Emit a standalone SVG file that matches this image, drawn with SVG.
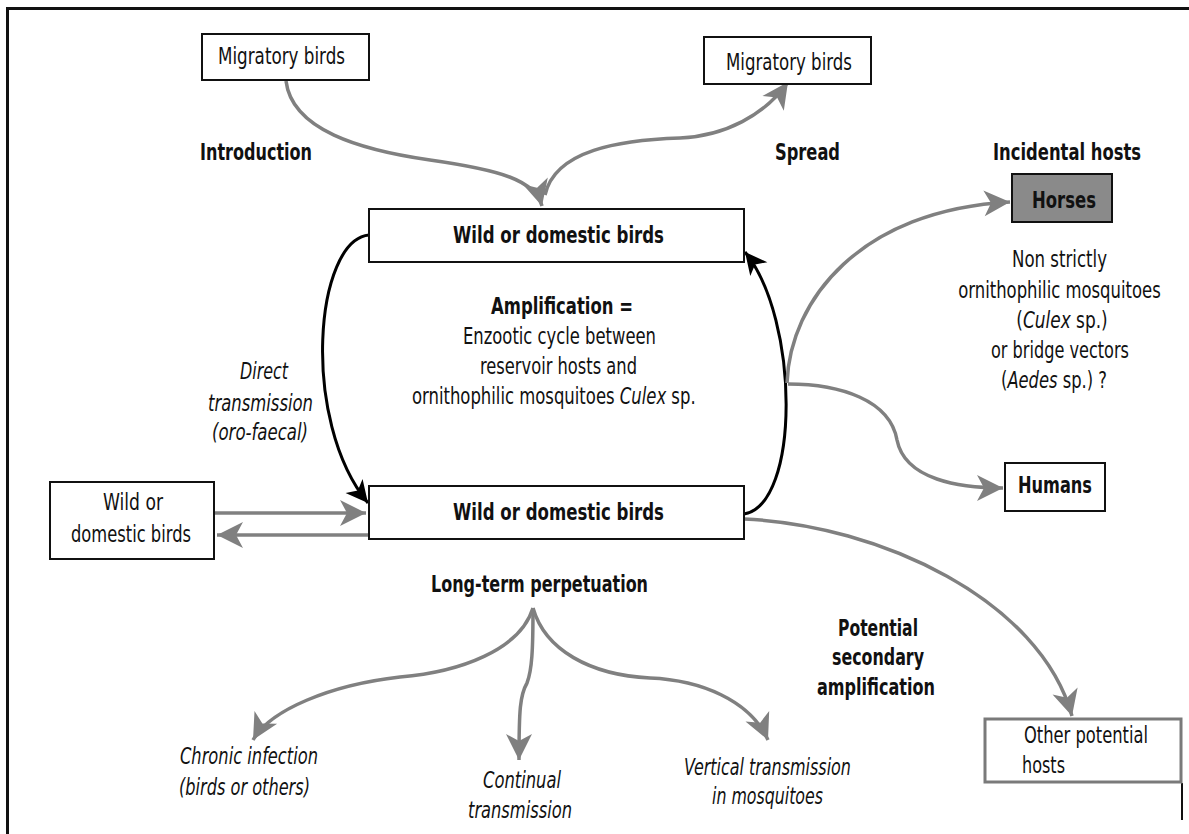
<svg xmlns="http://www.w3.org/2000/svg" width="1189" height="834" viewBox="0 0 1189 834">
<style>
text{font-family:"DejaVu Sans Condensed","Liberation Sans Narrow","Liberation Sans",sans-serif;font-size:23px;fill:#111;text-anchor:middle}
.b{font-weight:bold}
.i{font-style:italic}
.st{text-anchor:start}
.box{fill:#fff;stroke:#111;stroke-width:2}
.g{fill:none;stroke:#808080;stroke-width:3.5;marker-end:url(#ag)}
.k{fill:none;stroke:#000;stroke-width:3;marker-end:url(#ak)}
</style>
<defs>
<marker id="ag" markerUnits="userSpaceOnUse" viewBox="-28 -15 30 30" refX="0" refY="0" markerWidth="30" markerHeight="30" orient="auto">
<path d="M0 0 L-26 -13 L-19 0 L-26 13 Z" fill="#808080"/>
</marker>
<marker id="ak" markerUnits="userSpaceOnUse" viewBox="-24 -13 26 26" refX="0" refY="0" markerWidth="26" markerHeight="26" orient="auto">
<path d="M0 0 L-22 -11 L-16 0 L-22 11 Z" fill="#000"/>
</marker>
</defs>
<rect width="1189" height="834" fill="#fff"/>
<g id="frame" fill="none" stroke="#111">
<path d="M7.5 834 V8.5 H1189" stroke-width="3"/>
<path d="M1182 783 V820" stroke-width="2"/>
</g>
<g id="connectors">
<path class="g" d="M286 81 C292 130 360 150 430 160 C500 170 535 180 542 206"/>
<path class="g" d="M545 195 C555 150 620 140 680 138 C725 136 765 115 788 82"/>
<path class="k" d="M369 235 C315 240 300 420 368 503"/>
<path class="k" d="M744 514 C800 505 800 320 745 252"/>
<path class="g" d="M787 383 C790 300 860 210 1010 202"/>
<path class="g" d="M788 384 C840 384 890 400 897 440 C905 480 960 488 1003 488"/>
<path class="g" d="M744 519 C880 525 1040 600 1072 716"/>
<path class="g" d="M214 513 H366"/>
<path class="g" d="M369 535 H217"/>
<path class="g" d="M533 608 C520 650 460 672 400 677 C330 685 270 710 253 740"/>
<path class="g" d="M533 608 C533 650 532 670 527 683 C520 695 519 710 519 760"/>
<path class="g" d="M533 608 C545 650 590 675 650 678 C700 680 750 700 768 740"/>
</g>
<g id="migratory-left"><rect class="box" x="202" y="34" width="167" height="46"/><text x="281.5" y="64" textLength="127" lengthAdjust="spacingAndGlyphs">Migratory birds</text></g>
<g id="migratory-right"><rect class="box" x="704" y="37" width="167" height="47"/><text x="789" y="70" textLength="126" lengthAdjust="spacingAndGlyphs">Migratory birds</text></g>
<g id="label-introduction"><text class="b" x="256" y="160" textLength="112" lengthAdjust="spacingAndGlyphs">Introduction</text></g>
<g id="label-spread"><text class="b" x="807.5" y="160" textLength="65" lengthAdjust="spacingAndGlyphs">Spread</text></g>
<g id="label-incidental"><text class="b" x="1067" y="160" textLength="148" lengthAdjust="spacingAndGlyphs">Incidental hosts</text></g>
<g id="horses"><rect x="1012" y="174" width="100" height="48" fill="#8a8a8a" stroke="#111" stroke-width="2"/><text class="b" x="1064" y="208" textLength="64" lengthAdjust="spacingAndGlyphs">Horses</text></g>
<g id="label-vectors">
<text x="1059.5" y="267" textLength="95" lengthAdjust="spacingAndGlyphs">Non strictly</text>
<text transform="translate(1059.5 298) scale(0.795 1)" x="0" y="0">ornithophilic mosquitoes</text>
<text transform="translate(1062 328) scale(0.819 1)" x="0" y="0">(<tspan class="i">Culex</tspan> sp.)</text>
<text x="1060" y="358" textLength="138" lengthAdjust="spacingAndGlyphs">or bridge vectors</text>
<text transform="translate(1054 388) scale(0.789 1)" x="0" y="0">(<tspan class="i">Aedes</tspan> sp.) ?</text>
</g>
<g id="humans"><rect class="box" x="1005" y="463" width="100" height="48"/><text class="b" x="1055" y="493" textLength="74" lengthAdjust="spacingAndGlyphs">Humans</text></g>
<g id="birds-top"><rect class="box" x="369" y="209" width="375" height="53"/><text class="b" x="558.5" y="243" textLength="211" lengthAdjust="spacingAndGlyphs">Wild or domestic birds</text></g>
<g id="birds-bottom"><rect class="box" x="369" y="486" width="375" height="53"/><text class="b" x="558.5" y="520" textLength="211" lengthAdjust="spacingAndGlyphs">Wild or domestic birds</text></g>
<g id="label-amplification">
<text class="b" x="562" y="314" textLength="142" lengthAdjust="spacingAndGlyphs">Amplification =</text>
<text x="559.5" y="344" textLength="193" lengthAdjust="spacingAndGlyphs">Enzootic cycle between</text>
<text x="558.5" y="374" textLength="157" lengthAdjust="spacingAndGlyphs">reservoir hosts and</text>
<text class="st" transform="translate(412 404) scale(0.7955 1)" x="0" y="0">ornithophilic mosquitoes <tspan class="i">Culex</tspan> sp.</text>
</g>
<g id="label-direct">
<text class="i" x="264" y="379" textLength="48" lengthAdjust="spacingAndGlyphs">Direct</text>
<text class="i" x="260.5" y="411" textLength="105" lengthAdjust="spacingAndGlyphs">transmission</text>
<text class="i" x="260" y="440" textLength="96" lengthAdjust="spacingAndGlyphs">(oro-faecal)</text>
</g>
<g id="birds-left"><rect class="box" x="50" y="482" width="164" height="77"/>
<text x="133" y="510" textLength="60" lengthAdjust="spacingAndGlyphs">Wild or</text>
<text x="131" y="542" textLength="120" lengthAdjust="spacingAndGlyphs">domestic birds</text></g>
<g id="label-longterm"><text class="b" x="539.5" y="592" textLength="217" lengthAdjust="spacingAndGlyphs">Long-term perpetuation</text></g>
<g id="label-chronic">
<text class="i" x="249" y="764" textLength="138" lengthAdjust="spacingAndGlyphs">Chronic infection</text>
<text class="i" x="244.5" y="795" textLength="131" lengthAdjust="spacingAndGlyphs">(birds or others)</text>
</g>
<g id="label-continual">
<text class="i" x="522" y="788" textLength="78" lengthAdjust="spacingAndGlyphs">Continual</text>
<text class="i" x="520" y="818" textLength="104" lengthAdjust="spacingAndGlyphs">transmission</text>
</g>
<g id="label-vertical">
<text class="i" x="767.5" y="775" textLength="167" lengthAdjust="spacingAndGlyphs">Vertical transmission</text>
<text class="i" x="767.5" y="804" textLength="111" lengthAdjust="spacingAndGlyphs">in mosquitoes</text>
</g>
<g id="label-secondary">
<text class="b" x="878" y="636" textLength="80" lengthAdjust="spacingAndGlyphs">Potential</text>
<text class="b" x="878" y="665" textLength="92" lengthAdjust="spacingAndGlyphs">secondary</text>
<text class="b" x="876" y="695" textLength="118" lengthAdjust="spacingAndGlyphs">amplification</text>
</g>
<g id="other-hosts"><rect x="985" y="719" width="196" height="63" fill="#fff" stroke="#7a7a7a" stroke-width="3"/>
<text class="st" x="1024" y="743" textLength="124" lengthAdjust="spacingAndGlyphs">Other potential</text>
<text class="st" x="1022" y="773" textLength="43" lengthAdjust="spacingAndGlyphs">hosts</text></g>
</svg>
